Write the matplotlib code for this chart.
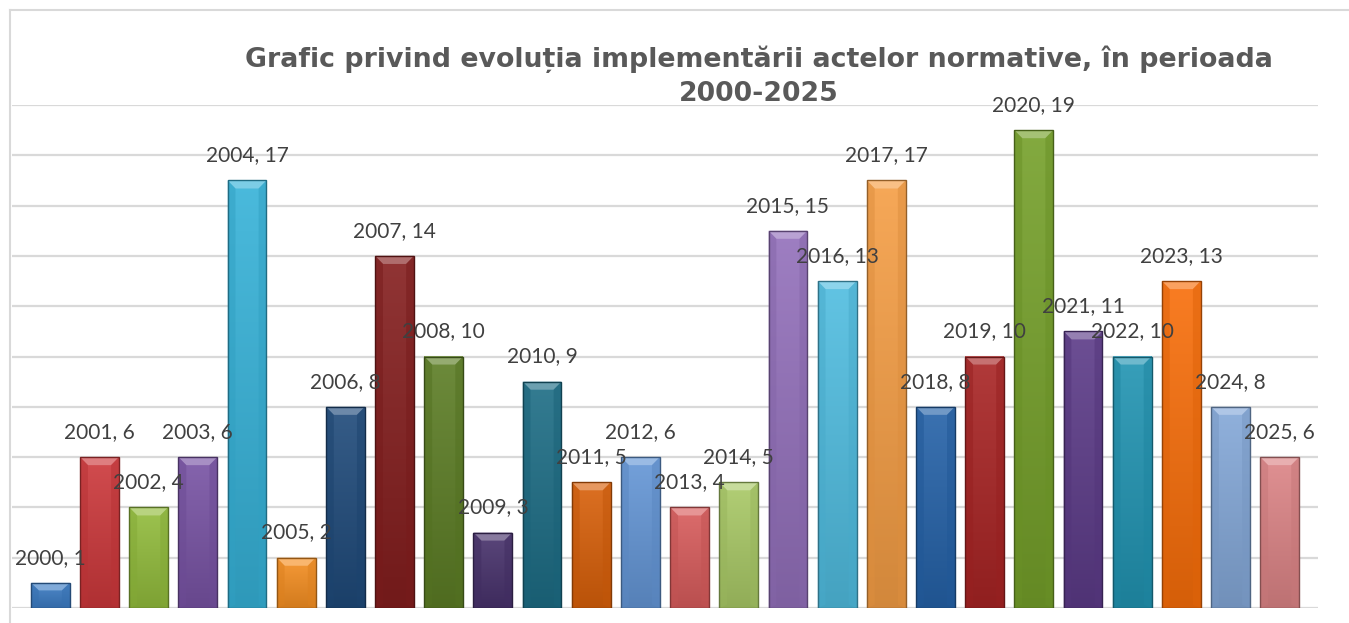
import numpy as np
import matplotlib.pyplot as plt
from matplotlib.colors import to_rgb
from matplotlib.patches import Polygon
from matplotlib.lines import Line2D

years = list(range(2000, 2026))
values = [1, 6, 4, 6, 17, 2, 8, 14, 10, 3, 9, 5, 6, 4, 5, 15, 13, 17, 8, 10, 19, 11, 10, 13, 8, 6]
colors = ['#3c7cc4', '#cc383b', '#92bc3c', '#7853a4', '#36b2d8', '#f58f22',
          '#1f4a7a', '#841e1e', '#5c7d25', '#48326c', '#1d6d85', '#d8600a',
          '#6496d6', '#d85c5c', '#a9c966', '#9370bb', '#50bde0', '#f59e45',
          '#2562a8', '#a82424', '#75a02a', '#5c3b88', '#2194b2', '#f86e0a',
          '#84a8d8', '#dc8486']
title_lines = ['Grafic privind evoluția implementării actelor normative, în perioada',
               '2000-2025']


def shade(c, f):
    r = np.array(to_rgb(c))
    if f > 1:
        return tuple(r + (1 - r) * (f - 1))
    return tuple(r * f)


fig = plt.figure(figsize=(13.49, 6.23), dpi=100)
ax = fig.add_axes([12 / 1349, 1 - 608 / 623, (1318 - 12) / 1349, (608 - 105) / 623])

x = np.arange(len(years))
ax.set_xlim(-0.78, len(years) - 1 + 0.78)
ax.set_ylim(0, 20)
ax.set_yticks(np.arange(0, 21, 2))
ax.yaxis.grid(True, color='#d9d9d9', linewidth=1.6)
ax.set_axisbelow(True)
ax.tick_params(left=False, bottom=False, labelleft=False, labelbottom=False)
for s in ax.spines.values():
    s.set_visible(False)

bars = ax.bar(x, values, width=0.79, color=colors, edgecolor='none', zorder=2)

# gradient + bevel per bar
for b, c in zip(bars, colors):
    x0, w, h = b.get_x(), b.get_width(), b.get_height()
    top = np.array(shade(c, 1.1))
    bot = np.array(shade(c, 0.86))
    t = np.linspace(0, 1, 64)[:, None]
    grad = (top * (1 - t) + bot * t)[:, None, :]
    grad = np.repeat(grad, 2, axis=1)
    im = ax.imshow(grad, extent=(x0, x0 + w, 0, h), aspect='auto',
                   origin='upper', zorder=3, interpolation='bilinear')
    im.set_clip_path(b)
    bx = 0.16
    by = min(0.32, h * 0.3)
    cap = Polygon([(x0, h), (x0 + w, h), (x0 + w - bx, h - by), (x0 + bx, h - by)],
                  closed=True, facecolor=shade(c, 1.35), edgecolor='none', zorder=4)
    ax.add_patch(cap)
    for side in [[(x0, h), (x0 + bx, h - by), (x0 + bx, by * 0.4), (x0, 0)],
                 [(x0 + w, h), (x0 + w - bx, h - by), (x0 + w - bx, by * 0.4), (x0 + w, 0)]]:
        ax.add_patch(Polygon(side, closed=True, facecolor=shade(c, 0.9),
                             edgecolor='none', alpha=0.5, zorder=4))
    ax.add_patch(plt.Rectangle((x0, 0), w, h, fill=False,
                               edgecolor=shade(c, 0.6), linewidth=1.0, zorder=5))

for xi, yr, v in zip(x, years, values):
    ax.text(xi, v + 1.0, f'{yr}, {v}', ha='center', va='center',
            fontsize=15, family=['Lato', 'DejaVu Sans'], color='#404040', zorder=6)

# title, one text per line
for line, ypix in zip(title_lines, [59, 94]):
    fig.text(0.5625, 1 - ypix / 623, line, ha='center', va='center', fontsize=19.3,
             fontweight='bold', color='#595959', family=['DejaVu Sans'])

# chart area border (top and left visible)
fig.add_artist(Line2D([10 / 1349, 10 / 1349], [0, 1 - 10 / 623], color='#d9d9d9', linewidth=1.5))
fig.add_artist(Line2D([10 / 1349, 1], [1 - 10 / 623, 1 - 10 / 623], color='#d9d9d9', linewidth=1.5))

fig.savefig('out.png', dpi=100)
